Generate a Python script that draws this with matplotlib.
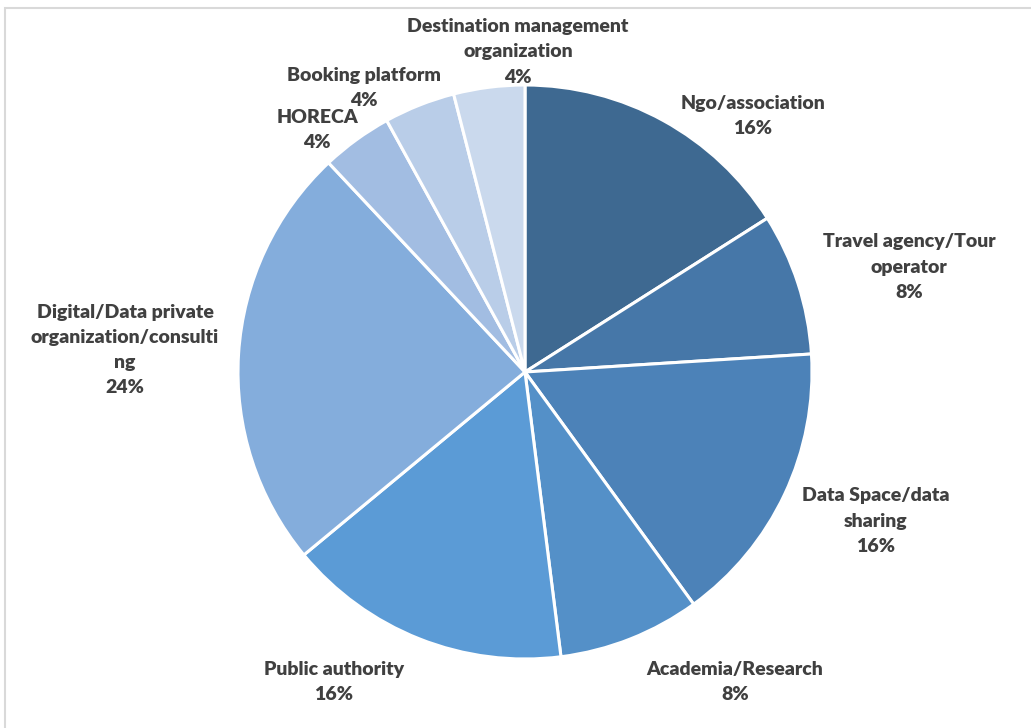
import matplotlib

matplotlib.use("Agg")

import matplotlib.pyplot as plt
from matplotlib.patches import Rectangle

# slice data, clockwise from 12 o'clock
categories = [
    "Ngo/association",
    "Travel agency/Tour operator",
    "Data Space/data sharing",
    "Academia/Research",
    "Public authority",
    "Digital/Data private organization/consulting",
    "HORECA",
    "Booking platform",
    "Destination management organization",
]
shares = [16, 8, 16, 8, 16, 24, 4, 4, 4]
label_lines = [
    "Ngo/association",
    "Travel agency/Tour\noperator",
    "Data Space/data\nsharing",
    "Academia/Research",
    "Public authority",
    "Digital/Data private\norganization/consulti\nng",
    "HORECA",
    "Booking platform",
    "Destination management\norganization",
]
colors = ["#3e6991", "#4677a8", "#4c82b8", "#5490c8", "#5b9bd6",
          "#84addc", "#a2bde2", "#b9cde8", "#cad9ed"]

# label block centres in pixels (x, y from top)
label_px = [(753, 116), (909, 267), (876, 521), (735, 682), (334, 682),
            (125, 350), (317, 130), (364, 88), (518, 52)]

W, H = 1031, 728
CX, CY, R = 525, 372, 287

fig = plt.figure(figsize=(W / 100, H / 100), dpi=100)
fig.patch.set_facecolor("white")
fig.patches.append(Rectangle((5 / W, -0.1), 1.2, (H - 8) / H + 0.1, transform=fig.transFigure,
                             fill=False, edgecolor="#d9d9d9", linewidth=1.5))

ax = fig.add_axes([0, 0, 1, 1])
ax.pie(shares, colors=colors, startangle=90, counterclock=False, radius=1.0,
       wedgeprops=dict(edgecolor="white", linewidth=2.2))
ax.set_aspect("auto")
ax.set_xlim(-CX / R, (W - CX) / R)
ax.set_ylim(-(H - CY) / R, CY / R)
ax.set_axis_off()

for text, share, (px, py) in zip(label_lines, shares, label_px):
    ax.text((px - CX) / R, (CY - py) / R, f"{text}\n{share}%", ha="center", va="center",
            fontsize=14, fontweight="heavy", family=["Lato", "DejaVu Sans"],
            color="#404040", linespacing=1.58)

fig.savefig("out.png", dpi=100)
